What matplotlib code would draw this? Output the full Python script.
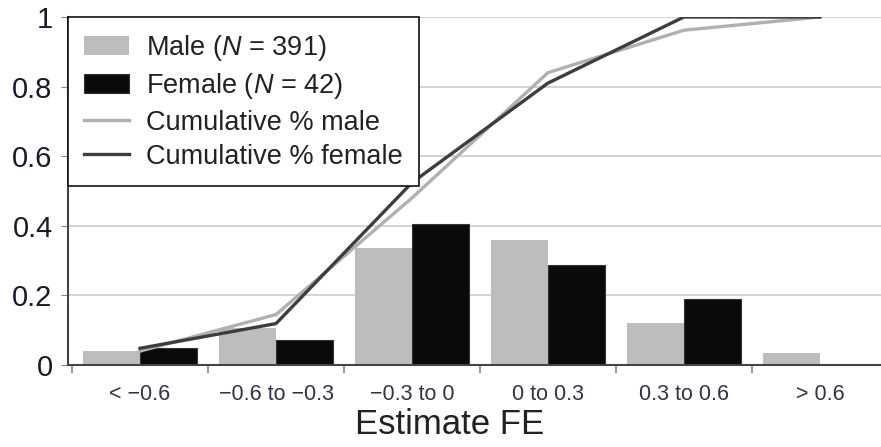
import numpy as np
import matplotlib
matplotlib.use("Agg")
import matplotlib.pyplot as plt

categories = ["< \u22120.6", "\u22120.6 to \u22120.3", "\u22120.3 to 0", "0 to 0.3", "0.3 to 0.6", "> 0.6"]
male_share = [0.040, 0.105, 0.335, 0.360, 0.120, 0.035]
female_share = [0.048, 0.071, 0.405, 0.286, 0.190, 0.0]
male_cum = [0.040, 0.145, 0.480, 0.840, 0.962, 1.0]
female_cum = [0.048, 0.119, 0.524, 0.810, 1.0, 1.0]
yticks = [0, 0.2, 0.4, 0.6, 0.8, 1]
ytick_labels = ["0", "0.2", "0.4", "0.6", "0.8", "1"]

plt.rcParams['font.family'] = ['Liberation Sans', 'DejaVu Sans']
plt.rcParams['mathtext.fontset'] = 'custom'
plt.rcParams['mathtext.rm'] = 'Liberation Sans'
plt.rcParams['mathtext.it'] = 'Liberation Sans:italic'

fig = plt.figure(figsize=(8.81, 4.47), dpi=100)
ax = fig.add_axes([68 / 881, 82 / 447, 813 / 881, 348 / 447])

x = np.arange(len(categories))
w = 0.42
b_m = ax.bar(x - w / 2, male_share, w, color='#bdbdbd', label='Male ($N$ = 391)', zorder=2)
b_f = ax.bar(x + w / 2, female_share, w, color='#0a0a0a', edgecolor='#333333', linewidth=0.8,
             label='Female ($N$ = 42)', zorder=2)
l_m, = ax.plot(x, male_cum, color='#b0b0b0', lw=2.4, label='Cumulative % male', zorder=3)
l_f, = ax.plot(x, female_cum, color='#3d3d3d', lw=2.4, label='Cumulative % female', zorder=4)

ax.set_xlim(-0.53, 5.45)
ax.set_ylim(0, 1.0)
ax.set_yticks(yticks)
ax.set_yticklabels(ytick_labels, fontsize=21, color='#1a1a2a')
ax.set_xticks(x)
ax.set_xticklabels(categories, fontsize=15.5, color='#333344')
ax.set_xticks(np.arange(-0.5, 5.5, 1), minor=True)
ax.tick_params(axis='x', which='major', length=0, pad=14)
ax.tick_params(axis='x', which='minor', length=6, color='#888888', width=1.2)
ax.tick_params(axis='y', length=5, color='#888888', pad=6)
ax.grid(axis='y', color='#cccccc', lw=1.2, zorder=0)
ax.set_axisbelow(True)
for s in ['top', 'right']:
    ax.spines[s].set_visible(False)
for s in ['left', 'bottom']:
    ax.spines[s].set_color('#444444')
    ax.spines[s].set_linewidth(1.5)

ax.set_xlabel('Estimate FE', fontsize=25, color='#222222')
ax.xaxis.set_label_coords(0.469, -0.125)

leg = ax.legend(handles=[b_m, b_f, l_m, l_f], loc='upper left', bbox_to_anchor=(0, 1.0),
                borderaxespad=0, fontsize=19.5,
                frameon=True, fancybox=False, framealpha=1, edgecolor='#111111',
                handlelength=1.67, handleheight=0.7, labelspacing=0.3, borderpad=0.6,
                handletextpad=0.6)
leg.get_frame().set_linewidth(1.2)
leg.set_zorder(10)
for t in leg.get_texts():
    t.set_color('#222222')

fig.savefig('out.png', dpi=100)
